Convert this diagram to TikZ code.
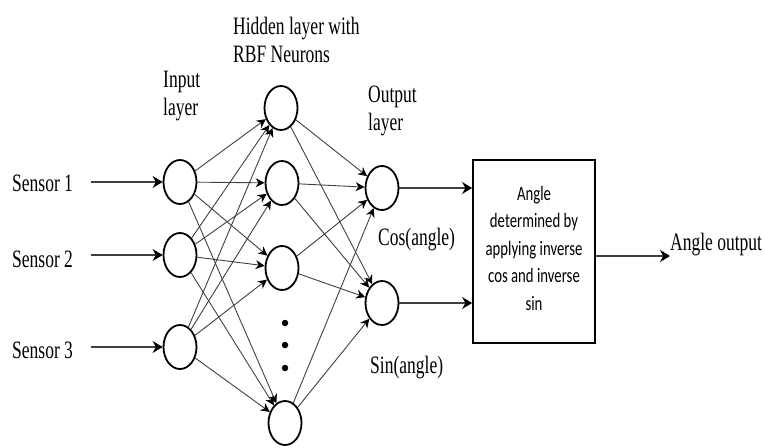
\documentclass[tikz,border=0pt]{standalone}
\usepackage{fontspec}
\setmainfont{Liberation Serif}[FakeStretch=0.7]
\newfontfamily\boxfont{Carlito}[FakeStretch=0.72]
\usetikzlibrary{arrows.meta,shapes.geometric}
\begin{document}
\begin{tikzpicture}[x=1pt,y=-1pt,
  neuron/.style={ellipse, draw, line width=1.8pt, minimum width=33pt, minimum height=44pt, inner sep=0pt},
  conn/.style={draw=black!75, line width=0.9pt, -{Stealth[length=9pt,width=9pt,color=black]}},
  bigarrow/.style={draw=black!75, line width=1.3pt, -{Stealth[length=10pt,width=12pt,color=black]}},
  lbl/.style={font=\fontsize{25}{28}\selectfont, inner sep=0pt, align=left},
  dotnode/.style={circle, fill=black, inner sep=0pt, minimum size=6.5pt}
]
\useasboundingbox (0,0) rectangle (765,447);
% neurons
\node[neuron] (i1) at (180,182) {};
\node[neuron] (i2) at (180,255) {};
\node[neuron] (i3) at (180,347) {};
\node[neuron] (h1) at (281,108) {};
\node[neuron] (h2) at (282,183) {};
\node[neuron] (h3) at (282,268) {};
\node[neuron] (h4) at (285,423) {};
\node[neuron] (o1) at (382,188) {};
\node[neuron] (o2) at (382,303) {};
\node[dotnode] (d1) at (285,323) {};
\node[dotnode] (d2) at (285,345) {};
\node[dotnode] (d3) at (285,368) {};
% box
\node[draw, line width=1.8pt, minimum width=122pt, minimum height=183pt, inner sep=0pt] (box) at (534,251.5) {};
\node[font=\boxfont\fontsize{20.5}{27.5}\selectfont, align=center, inner sep=0pt] (bt) at (534,248) {Angle\\determined by\\applying inverse\\cos and inverse\\sin};
% labels
\node[lbl, anchor=base west] (s1) at (12,191) {Sensor 1};
\node[lbl, anchor=base west] (s2) at (12,267) {Sensor 2};
\node[lbl, anchor=base west] (s3) at (12,358) {Sensor 3};
\node[lbl, anchor=base west] (inl) at (163,115) {Input\\layer};
\node[lbl, anchor=base west] (hl) at (233,62) {Hidden layer with\\RBF Neurons};
\node[lbl, anchor=base west] (ol) at (368,130) {Output\\layer};
\node[lbl, anchor=base west] (cosl) at (378,245) {Cos(angle)};
\node[lbl, anchor=base west] (sinl) at (370,373) {Sin(angle)};
\node[lbl, anchor=base west] (out) at (670,250) {Angle output};
% connections
\foreach \a in {i1,i2,i3}
  \foreach \b in {h1,h2,h3,h4}
    \draw[conn] (\a) -- (\b);
\foreach \a in {h1,h2,h3,h4}
  \foreach \b in {o1,o2}
    \draw[conn] (\a) -- (\b);
\draw[bigarrow, shorten <=18pt] (s1.east |- i1.west) -- (i1.west);
\draw[bigarrow, shorten <=18pt] (s2.east |- i2.west) -- (i2.west);
\draw[bigarrow, shorten <=18pt] (s3.east |- i3.west) -- (i3.west);
\draw[bigarrow] (o1.east) -- (o1.east -| box.west);
\draw[bigarrow] (o2.east) -- (o2.east -| box.west);
\draw[bigarrow] ([yshift=-4.5pt]box.east) -- ([yshift=-4.5pt]box.east -| out.west);
\end{tikzpicture}
\end{document}
